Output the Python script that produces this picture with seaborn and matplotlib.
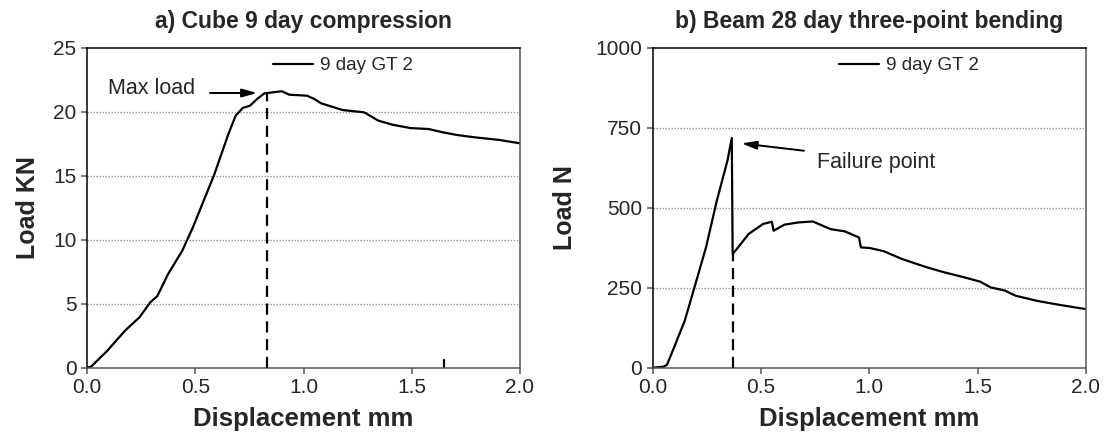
import numpy as np
import pandas as pd
import matplotlib
matplotlib.use("Agg")
import matplotlib.pyplot as plt
import seaborn as sns

# ---- data ----
cube_disp = [0.0, 0.02, 0.094, 0.176, 0.242, 0.292, 0.325, 0.374, 0.44, 0.489, 0.539,
             0.588, 0.621, 0.654, 0.687, 0.72, 0.753, 0.786, 0.819, 0.852, 0.90, 0.934,
             1.016, 1.049, 1.082, 1.181, 1.28, 1.346, 1.412, 1.494, 1.577, 1.643, 1.709,
             1.79, 1.906, 2.0]
cube_load = [0.0, 0.1, 1.33, 2.9, 3.93, 5.1, 5.6, 7.3, 9.14, 10.96, 13.05,
             15.1, 16.7, 18.3, 19.7, 20.3, 20.47, 21.0, 21.43, 21.5, 21.6, 21.33,
             21.25, 21.0, 20.65, 20.13, 19.95, 19.3, 18.98, 18.72, 18.65, 18.39, 18.18,
             18.0, 17.79, 17.53]
cube_mark_x = [1.65, 1.65]
cube_mark_y = [0.0, 0.6]
cube_maxload_x = 0.832
cube_maxload_y = 21.45

beam_disp = [0.0, 0.049, 0.066, 0.099, 0.148, 0.197, 0.246, 0.296, 0.345, 0.365, 0.369,
             0.394, 0.443, 0.509, 0.55, 0.558, 0.608, 0.673, 0.739, 0.821, 0.887, 0.952,
             0.961, 1.002, 1.067, 1.149, 1.264, 1.346, 1.429, 1.511, 1.56, 1.626, 1.675,
             1.773, 1.872, 2.0]
beam_load = [0, 3, 9, 64, 147, 261, 376, 522, 647, 718, 355,
             376, 418, 449, 456, 428, 447, 454, 457, 433, 426, 407,
             376, 374, 364, 340, 314, 298, 284, 269, 251, 241, 225,
             209, 197, 183]
beam_fail_x = 0.369
beam_fail_y = 355

series_label = "9 day GT 2"
titles = ["a) Cube 9 day compression", "b) Beam 28 day three-point bending"]
ylabels = ["Load KN", "Load N"]
xlabel = "Displacement mm"
xticks = [0.0, 0.5, 1.0, 1.5, 2.0]
yticks_a = [0, 5, 10, 15, 20, 25]
yticks_b = [0, 250, 500, 750, 1000]

# ---- style ----
sns.set_style("white")
plt.rcParams["font.family"] = ["Liberation Sans", "DejaVu Sans"]

fig = plt.figure(figsize=(11.07, 4.34), dpi=100)
ax1 = fig.add_axes([87/1107, 1-367.7/434, 433/1107, 320/434])
ax2 = fig.add_axes([652.7/1107, 1-367.7/434, 433.3/1107, 320/434])

df_a = pd.DataFrame({"x": cube_disp, "y": cube_load})
df_b = pd.DataFrame({"x": beam_disp, "y": beam_load})

sns.lineplot(data=df_a, x="x", y="y", ax=ax1, color="black", lw=1.6, sort=False,
             estimator=None, label=series_label)
sns.lineplot(x=cube_mark_x, y=cube_mark_y, ax=ax1, color="black", lw=1.6, sort=False,
             estimator=None, legend=False)
sns.lineplot(data=df_b, x="x", y="y", ax=ax2, color="black", lw=1.6, sort=False,
             estimator=None, label=series_label)

ax1.vlines(cube_maxload_x, 0, cube_maxload_y, colors="black", lw=1.6,
           linestyles=(0, (5, 3)), zorder=3)
ax2.vlines(beam_fail_x, 0, beam_fail_y, colors="black", lw=1.6,
           linestyles=(0, (5, 3)), zorder=3)

arrow = dict(arrowstyle="-|>,head_length=0.9,head_width=0.25", color="black", lw=1.4,
             shrinkA=0, shrinkB=0)
ax1.annotate("", xy=(0.786, 21.46), xytext=(0.568, 21.46), arrowprops=arrow)
ax1.text(0.298, 21.8, "Max load", fontsize=15.5, ha="center", va="center")
ax2.annotate("", xy=(0.41, 701), xytext=(0.698, 678), arrowprops=arrow)
ax2.text(1.03, 640, "Failure point", fontsize=15.5, ha="center", va="center")

for ax, title, ylab, yt, lp in [(ax1, titles[0], ylabels[0], yticks_a, 9.5),
                                (ax2, titles[1], ylabels[1], yticks_b, 13)]:
    ax.set_xlim(0, 2)
    ax.set_ylim(yt[0], yt[-1])
    ax.set_xticks(xticks)
    ax.set_xticklabels([f"{v:.1f}" for v in xticks])
    ax.set_yticks(yt)
    ax.set_yticklabels([str(v) for v in yt])
    for g in yt[1:-1]:
        ax.axhline(g, color="#9a9a9a", lw=0.9, ls=(0, (1.2, 1.2)), zorder=0)
    ax.tick_params(axis="both", which="major", direction="out", length=4.5, width=1.1,
                   color="#555555", labelsize=15, pad=3, bottom=True, left=True)
    ax.set_title(title, fontsize=16.5, fontweight="bold", pad=14)
    ax.set_xlabel(xlabel, fontsize=18.5, fontweight="bold", labelpad=7)
    ax.set_ylabel(ylab, fontsize=18, fontweight="bold", labelpad=lp)
    for side in ["top", "left"]:
        ax.spines[side].set_color("black")
        ax.spines[side].set_linewidth(1.1)
    for side in ["bottom", "right"]:
        ax.spines[side].set_color("#555555")
        ax.spines[side].set_linewidth(1.1)
    ax.legend(loc="center left", bbox_to_anchor=(0.43, 0.944), frameon=False,
              fontsize=13.6, handlelength=2.1, handletextpad=0.4, borderpad=0,
              borderaxespad=0)

fig.savefig("out.png", dpi=100)
